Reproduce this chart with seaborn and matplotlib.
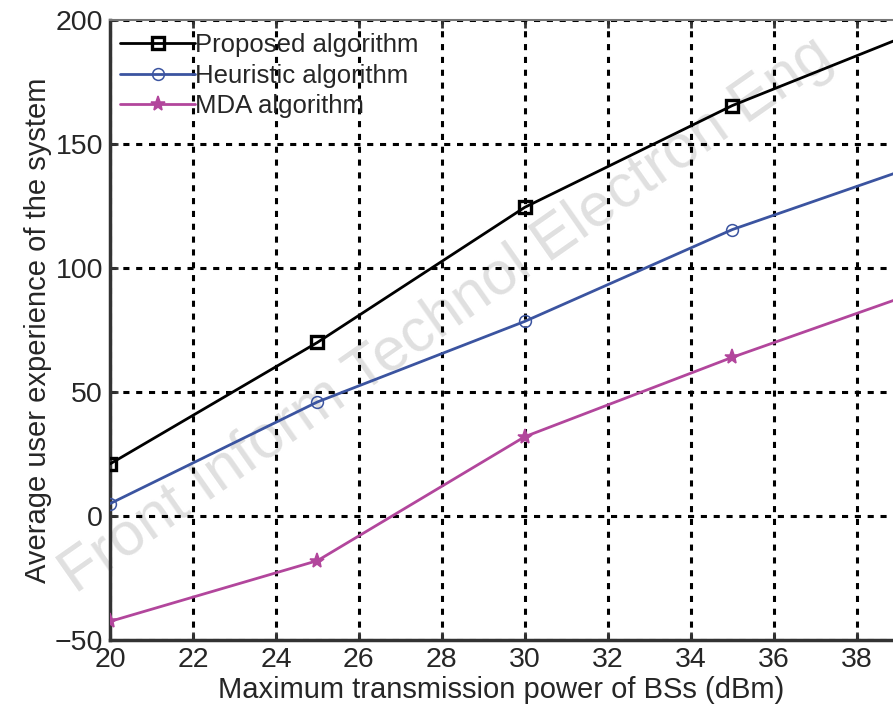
import numpy as np
import pandas as pd
import seaborn as sns
import matplotlib
matplotlib.use("Agg")
import matplotlib.pyplot as plt

power = [20, 25, 30, 35, 40]
proposed = [21, 70, 124.5, 165.5, 199]
heuristic = [5, 46, 78.5, 115.5, 144.5]
mda = [-42.5, -18, 32, 64, 93.5]
series_names = ["Proposed algorithm", "Heuristic algorithm", "MDA algorithm"]
xticks = [20, 22, 24, 26, 28, 30, 32, 34, 36, 38]
yticks = [-50, 0, 50, 100, 150, 200]

df = pd.DataFrame({
    "x": power * 3,
    "y": proposed + heuristic + mda,
    "alg": [series_names[0]] * 5 + [series_names[1]] * 5 + [series_names[2]] * 5,
})

sns.set_style("ticks")
plt.rcParams["font.family"] = ["Liberation Sans", "DejaVu Sans"]

fig = plt.figure(figsize=(8.93, 7.18), dpi=100)
ax = fig.add_axes([0.1232, 0.1086, 0.8768, 0.8635])
ax.set_facecolor("none")

colors = ["#000000", "#3b54a0", "#b2469c"]
markers = ["s", "o", "*"]
msizes = [8, 8.5, 11]
mfcs = ["none", "none", "#b2469c"]
for name, c, m, ms, mfc in zip(series_names, colors, markers, msizes, mfcs):
    sub = df[df["alg"] == name]
    sns.lineplot(data=sub, x="x", y="y", ax=ax, color=c, marker=m,
                 markersize=ms, markerfacecolor=mfc, markeredgecolor=c,
                 markeredgewidth=2.4 if m == "s" else 1.1,
                 linewidth=2, label=name, zorder=3)

ax.set_xlim(20, 38.875)
ax.set_ylim(-50, 200)
ax.set_xticks(xticks)
ax.set_yticks(yticks)
ax.set_xticklabels([str(t) for t in xticks])
ax.set_yticklabels(["\u221250" if t < 0 else str(t) for t in yticks])
ax.grid(True, color="black", linestyle=(0, (2, 2.2)), linewidth=2.2, zorder=1)
ax.tick_params(direction="in", length=6, width=2, labelsize=20.5, top=True,
               color="#333333", pad=5)
for s in ["left", "bottom"]:
    ax.spines[s].set_linewidth(2.5)
    ax.spines[s].set_color("#333333")
ax.spines["top"].set_linewidth(1.5)
ax.spines["top"].set_color("#777777")
ax.spines["right"].set_visible(False)

ax.set_xlabel("Maximum transmission power of BSs (dBm)", fontsize=21, labelpad=2)
ax.set_ylabel("Average user experience of the system", fontsize=21, labelpad=2)

leg = ax.legend(loc="upper left", frameon=False, fontsize=18.5, handlelength=2.9,
                handletextpad=0.0, labelspacing=0.25, borderaxespad=0.0,
                bbox_to_anchor=(0.0, 0.995))

fig.text(0.5, 0.56, "Front Inform Technol Electron Eng", fontsize=44,
         color="#e0e0e0", rotation=35, ha="center", va="center", zorder=-1)

fig.savefig("out.png", dpi=100)
